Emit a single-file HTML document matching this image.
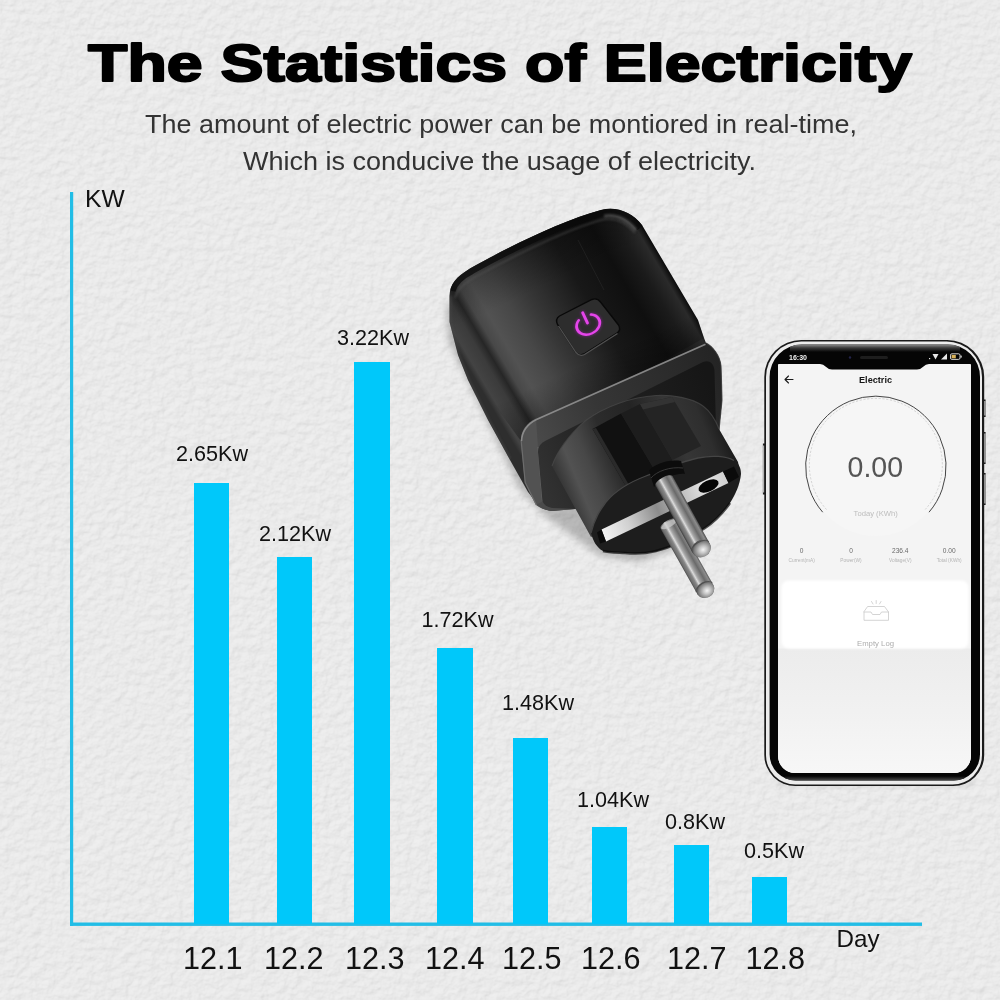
<!DOCTYPE html>
<html lang="en">
<head>
<meta charset="utf-8">
<title>The Statistics of Electricity</title>
<style>
html,body{margin:0;padding:0;background:#e9e9e9;}
body{width:1000px;height:1000px;overflow:hidden;position:relative;font-family:"Liberation Sans",Arial,sans-serif;}
svg{position:absolute;left:0;top:0;display:block;}
text{font-family:"Liberation Sans",Arial,sans-serif;}
.title{font-weight:700;font-size:52px;fill:#000;stroke:#000;stroke-width:2px;stroke-linejoin:round;}
.sub{font-size:25.5px;fill:#333;}
.val{font-size:21.6px;fill:#111;}
.day{font-size:30.6px;fill:#111;}
.ax{font-size:24.6px;fill:#111;}
</style>
</head>
<body>
<svg width="1000" height="1000" viewBox="0 0 1000 1000">
<defs>
<filter id="wall" x="0" y="0" width="100%" height="100%" color-interpolation-filters="sRGB">
<feTurbulence type="fractalNoise" baseFrequency="0.11 0.12" numOctaves="4" seed="11" result="n"/>
<feDiffuseLighting in="n" surfaceScale="1.7" diffuseConstant="1" lighting-color="#ffffff" result="l">
<feDistantLight azimuth="235" elevation="62"/>
</feDiffuseLighting>
<feColorMatrix in="l" type="matrix" values="0.17 0 0 0 0.767  0 0.17 0 0 0.767  0 0 0.17 0 0.767  0 0 0 1 0"/>
</filter>
</defs>
<!-- BACKGROUND -->
<rect id="bg" width="1000" height="1000" fill="#e8e8e8"/>
<rect width="1000" height="1000" filter="url(#wall)"/>
<!-- HEADER -->
<g id="header">
<text class="title" x="88" y="80.8" textLength="824" lengthAdjust="spacingAndGlyphs">The Statistics of Electricity</text>
<text class="sub" x="145" y="133.2" textLength="712" lengthAdjust="spacingAndGlyphs">The amount of electric power can be montiored in real-time,</text>
<text class="sub" x="243" y="170.2" textLength="513" lengthAdjust="spacingAndGlyphs">Which is conducive the usage of electricity.</text>
</g>
<!-- CHART -->
<g id="chart">
<rect x="70" y="192" width="3.2" height="733.9" fill="#22bde6"/>
<rect x="70" y="922.5" width="852" height="3.4" fill="#22bde6"/>
<g fill="#00c8fa">
<rect x="194" y="483" width="35" height="441"/>
<rect x="277" y="557" width="35" height="367"/>
<rect x="354" y="362" width="36" height="562"/>
<rect x="437" y="648" width="36" height="276"/>
<rect x="513" y="738" width="35" height="186"/>
<rect x="592" y="827" width="35" height="97"/>
<rect x="674" y="845" width="35" height="79"/>
<rect x="752" y="877" width="35" height="47"/>
</g>
<text class="ax" x="85" y="206.5">KW</text>
<text class="ax" x="836.5" y="947" style="font-size:24.2px">Day</text>
<g class="val">
<text x="176" y="461">2.65Kw</text>
<text x="259" y="541">2.12Kw</text>
<text x="337" y="345">3.22Kw</text>
<text x="421.5" y="626.5">1.72Kw</text>
<text x="502" y="710">1.48Kw</text>
<text x="577" y="806.5">1.04Kw</text>
<text x="665" y="829">0.8Kw</text>
<text x="744" y="857.5">0.5Kw</text>
</g>
<g class="day">
<text x="183" y="968.5">12.1</text>
<text x="264" y="968.5">12.2</text>
<text x="345" y="968.5">12.3</text>
<text x="425" y="968.5">12.4</text>
<text x="502" y="968.5">12.5</text>
<text x="581" y="968.5">12.6</text>
<text x="667" y="968.5">12.7</text>
<text x="745.5" y="968.5">12.8</text>
</g>
</g>
<!-- PLUG -->
<g id="plug">
<defs>
<linearGradient id="gBody" gradientUnits="userSpaceOnUse" x1="455" y1="345" x2="646" y2="232">
<stop offset="0" stop-color="#2e2e2e"/>
<stop offset="0.025" stop-color="#434343"/>
<stop offset="0.08" stop-color="#3b3b3b"/>
<stop offset="0.115" stop-color="#262626"/>
<stop offset="0.15" stop-color="#484848"/>
<stop offset="0.2" stop-color="#525252"/>
<stop offset="0.3" stop-color="#474747"/>
<stop offset="0.4" stop-color="#373737"/>
<stop offset="0.5" stop-color="#292929"/>
<stop offset="0.62" stop-color="#181818"/>
<stop offset="0.8" stop-color="#0f0f0f"/>
<stop offset="0.9" stop-color="#1b1b1b"/>
<stop offset="0.97" stop-color="#2a2a2a"/>
<stop offset="1" stop-color="#0b0b0b"/>
</linearGradient>
<linearGradient id="gBodyShade" gradientUnits="userSpaceOnUse" x1="540" y1="225" x2="620" y2="400">
<stop offset="0" stop-color="#000" stop-opacity="0.45"/>
<stop offset="0.12" stop-color="#000" stop-opacity="0.18"/>
<stop offset="0.3" stop-color="#000" stop-opacity="0"/>
<stop offset="0.75" stop-color="#000" stop-opacity="0"/>
<stop offset="1" stop-color="#000" stop-opacity="0.35"/>
</linearGradient>
<linearGradient id="gBevelTop" gradientUnits="userSpaceOnUse" x1="530" y1="430" x2="715" y2="350">
<stop offset="0" stop-color="#4a4a4a"/>
<stop offset="0.35" stop-color="#363636"/>
<stop offset="0.8" stop-color="#2a2a2a"/>
<stop offset="1" stop-color="#242424"/>
</linearGradient>
<linearGradient id="gFace" gradientUnits="userSpaceOnUse" x1="536" y1="470" x2="716" y2="400">
<stop offset="0" stop-color="#323232"/>
<stop offset="0.25" stop-color="#262626"/>
<stop offset="1" stop-color="#161616"/>
</linearGradient>
<linearGradient id="gCyl" gradientUnits="userSpaceOnUse" x1="556" y1="505" x2="735" y2="430">
<stop offset="0" stop-color="#1c1c1c"/>
<stop offset="0.06" stop-color="#343434"/>
<stop offset="0.15" stop-color="#525252"/>
<stop offset="0.24" stop-color="#474747"/>
<stop offset="0.36" stop-color="#2c2c2c"/>
<stop offset="0.55" stop-color="#242424"/>
<stop offset="0.72" stop-color="#363636"/>
<stop offset="0.86" stop-color="#2e2e2e"/>
<stop offset="1" stop-color="#101010"/>
</linearGradient>
<linearGradient id="gPin" gradientUnits="userSpaceOnUse" x1="-10" y1="0" x2="10" y2="0">
<stop offset="0" stop-color="#383838"/>
<stop offset="0.1" stop-color="#6c6c6c"/>
<stop offset="0.25" stop-color="#888888"/>
<stop offset="0.36" stop-color="#dcdcdc"/>
<stop offset="0.46" stop-color="#a6a6a6"/>
<stop offset="0.7" stop-color="#6a6a6a"/>
<stop offset="0.88" stop-color="#8c8c8c"/>
<stop offset="1" stop-color="#424242"/>
</linearGradient>
<radialGradient id="gTip" cx="0.55" cy="0.6" r="0.6">
<stop offset="0" stop-color="#f4f4f4"/>
<stop offset="0.35" stop-color="#c4c4c4"/>
<stop offset="0.8" stop-color="#7a7a7a"/>
<stop offset="1" stop-color="#4a4a4a"/>
</radialGradient>
<linearGradient id="gStrip" gradientUnits="userSpaceOnUse" x1="603" y1="535" x2="734" y2="478">
<stop offset="0" stop-color="#f4f4f4"/>
<stop offset="0.2" stop-color="#d0d0d0"/>
<stop offset="0.42" stop-color="#8c8c8c"/>
<stop offset="0.6" stop-color="#bcbcbc"/>
<stop offset="0.8" stop-color="#e6e6e6"/>
<stop offset="1" stop-color="#c8c8c8"/>
</linearGradient>
<filter id="blur3" x="-20%" y="-20%" width="140%" height="140%"><feGaussianBlur stdDeviation="3.5"/></filter>
<filter id="blur1" x="-20%" y="-20%" width="140%" height="140%"><feGaussianBlur stdDeviation="1"/></filter>
<clipPath id="bodyClip"><path d="M449.5,322 L449.5,296 C450,284 456,277 470,268.5 C505,249 560,221 601,210 C616,206 632,212 642,225 L698,320 L704,338 L706,343 L521,441 L510,460 L488,420 L468,380 L458,355 Z"/></clipPath>
</defs>
<!-- soft wall shadow -->
<path d="M446,300 L448,340 L520,490 L545,516 L600,556 L640,562 L700,540 L600,470 Z" fill="#000" opacity="0.22" filter="url(#blur3)"/>
<!-- body silhouette -->
<path d="M449.5,322 L449.5,296 C450,284 456,277 470,268.5 C505,249 560,221 601,210 C616,206 632,212 642,225 L698,320 L704,338 L706,343 C712,346 720,355 721,366 L722,400 L719,430 L700,470 L575,509 L552,511 C545,510 541,508 539,506 L528,492 L510,460 L488,420 L468,380 L458,355 Z" fill="url(#gBody)"/>
<path d="M449.5,322 L449.5,296 C450,284 456,277 470,268.5 C505,249 560,221 601,210 C616,206 632,212 642,225 L698,320 L704,338 L521,441 L458,355 Z" fill="url(#gBodyShade)"/>
<!-- top rim -->
<g clip-path="url(#bodyClip)">
<path d="M452,291 C454,282 461,276 472,270.5 C507,251 561,224 601,213 C616,209 630,215 640,228" fill="none" stroke="#0a0a0a" stroke-width="7" opacity="0.75"/>
<path d="M455,298 C457,289 464,283 475,277 C510,258 562,231 601,220 C614,217 626,222 635,233" fill="none" stroke="#5a5a5a" stroke-width="1.6" opacity="0.55" filter="url(#blur1)"/>
<path d="M604,216 C616,214 627,219 636,230" fill="none" stroke="#777" stroke-width="3" opacity="0.5" filter="url(#blur1)"/>
<!-- faint reflection line on top face -->
<path d="M578,240 L604,290" fill="none" stroke="#303030" stroke-width="1" opacity="0.45"/>
<!-- left silhouette rim light -->
<path d="M450.5,296 L450.5,322 L459,355 L469,380 L489,420 L511,460" fill="none" stroke="#4a4a4a" stroke-width="2" opacity="0.6" filter="url(#blur1)"/>
</g>
<!-- button -->
<path d="M559.5,316 L592,299.5 Q597,297.5 600.5,302 L618.5,325 Q621.5,330 617,333 L584,354 Q579,356.5 575.5,352 L557.5,324.5 Q555,319 559.5,316 Z" fill="#2d2d2d" stroke="#090909" stroke-width="1.4"/>
<path d="M558.5,326 L576,352.5 Q579.5,357 584.5,354.5 L617.5,333.5" fill="none" stroke="#5c5c5c" stroke-width="1.3" opacity="0.85"/>
<g transform="translate(588.2,324.6) rotate(-25) scale(1,0.8)" fill="none" stroke-linecap="round">
<g stroke="#b01fc0" stroke-width="5" opacity="0.35" filter="url(#blur1)">
<path d="M-6.8,-9.9 A12,12 0 1 0 6.8,-9.9"/><path d="M0,-16.5 L0,-2"/>
</g>
<g stroke="#e545ea" stroke-width="2.9">
<path d="M-6.8,-9.9 A12,12 0 1 0 6.8,-9.9"/><path d="M0,-16.5 L0,-2"/>
</g>
</g>
<!-- flange: outer bevel -->
<path d="M520.8,441 C521,430 527,423 536,418.5 L706,343 C712,346 720,355 721,366 L722,400 L719,430 L700,470 L575,509 L552,511 C545,510 540,508 536,505 L524.8,482.5 Z" fill="url(#gBevelTop)"/>
<path d="M520.8,441 C521,430 527,423 536,418.5 L538,447 L542.5,501.5 L536,505 L524.8,482.5 Z" fill="#525252"/>
<path d="M521.5,441 C522,431 527.5,424 536.5,419.5 L705.5,344.2" fill="none" stroke="#959595" stroke-width="1.6" opacity="0.85"/>
<path d="M706,343 C712,346 720,355 721,366 L722,400 L719,430" fill="none" stroke="#3a3a3a" stroke-width="1.2" opacity="0.8"/>
<path d="M538,447 L542.5,501.5" fill="none" stroke="#6e6e6e" stroke-width="1.1" opacity="0.7"/>
<path d="M521.2,441 L525.2,482.5 L536.4,505" fill="none" stroke="#787878" stroke-width="1.2" opacity="0.7"/>
<!-- flange inner face -->
<path d="M538,452 C538,446 541,443 546,440.5 L703,362 C710,359.5 714,364 714.5,371 L716,428 L700,470 L575,509 L552,508 C547,507 544,505 542.5,501.5 Z" fill="url(#gFace)"/>
<!-- cylinder side -->
<path d="M552,466 C557,452 568,436 585,421 C605,406 632,397 656,395.5 C672,394.5 692,398 703,406 C711,412 716,421 719,429 L738,462 L740,472 L591,537 Z" fill="url(#gCyl)"/>
<path d="M552,466 C557,452 568,436 585,421 C605,406 632,397 656,395.5 C672,394.5 692,398 703,406 C711,412 716,421 719,429" fill="none" stroke="#4a4a4a" stroke-width="1.1" opacity="0.7"/>
<!-- grooves -->
<path d="M592.5,429 L621,413.5 L657,474 L628,490 Z" fill="#111111"/>
<path d="M592.5,429 L596,428 L631,488.5 L628,490 Z" fill="#2a2a2a"/>
<path d="M621,413.5 L640,404 L672.5,460 L657,474 Z" fill="#1d1d1d"/>
<path d="M640,404 L672,397 L701,446 L672.5,460 Z" fill="#242424"/>
<path d="M640,404 L672,397 L675,402 L643,409.5 Z" fill="#333"/>
<!-- end face -->
<path d="M591,533 C595,517 601,509 606,502 C616,490 630,482 646,476 C664,469 680,462 698,458 C712,455 726,456 734,460.5 C739,463.5 741,468 741,474 C740,485 735,495 730,503 C723,513 714,522 705,528 C690,538 673,547 656,551.5 C646,553.5 634,554 625,553 C615,552.5 608,552.5 603,551 C597,548 593,541 591,533 Z" fill="#1d1d1d"/>
<path d="M591,533 C595,517 601,509 606,502 C616,490 630,482 646,476 C664,469 680,462 698,458 C712,455 726,456 734,460.5" fill="none" stroke="#454545" stroke-width="1.3"/>
<path d="M603,551 C608,552.5 615,552.5 625,553 C634,554 646,553.5 656,551 C673,547 690,538 705,528 C714,522 723,513 730,503" fill="none" stroke="#0a0a0a" stroke-width="2.5" opacity="0.7"/>
<!-- ground strip -->
<path d="M601.5,529.5 L723,471.5 L728.5,483 L606,541.5 Z" fill="url(#gStrip)"/>
<path d="M723,471.5 L734,466.5 L739,477 L728.5,483 Z" fill="#0b0b0b"/>
<path d="M597,532.5 L601.5,529.5 L606,541.5 L600,543.5 Z" fill="#0b0b0b"/>
<ellipse cx="708.5" cy="486" rx="10.8" ry="5.6" transform="rotate(-25 708.5 486)" fill="#060606"/>
<!-- pin 2 (lower) -->
<g transform="translate(668.5,523.9) rotate(-29.3)">
<path d="M-9.25,0 L-9.25,75 A9.25,8.6 0 0 0 9.25,75 L9.25,0 A9.25,3.5 0 0 0 -9.25,0 Z" fill="url(#gPin)"/>
<ellipse cx="0" cy="0.5" rx="8.6" ry="3" fill="#cfcfcf" opacity="0.7"/>
<ellipse cx="0" cy="75.5" rx="9.1" ry="8" fill="url(#gTip)"/>
<path d="M-9.25,73 A9.25,4.5 0 0 1 9.25,73" fill="none" stroke="#4a4a4a" stroke-width="1" opacity="0.8"/>
</g>
<!-- pin 1 collar -->
<path d="M649,470.5 C655,464 668,459 681,461 L685,474 C676,473 662,478 654,487 Z" fill="#0c0c0c"/>
<path d="M651,478 C657,471 670,466.5 683,468" fill="none" stroke="#383838" stroke-width="1"/>
<!-- pin 1 (upper) -->
<g transform="translate(664,480.8) rotate(-28.9)">
<path d="M-9.75,0 L-9.75,77 A9.75,9 0 0 0 9.75,77 L9.75,0 A9.75,3.5 0 0 0 -9.75,0 Z" fill="url(#gPin)"/>
<ellipse cx="0" cy="77.5" rx="9.6" ry="8.4" fill="url(#gTip)"/>
<path d="M-9.75,75 A9.75,4.5 0 0 1 9.75,75" fill="none" stroke="#4a4a4a" stroke-width="1" opacity="0.8"/>
</g>
</g>
<!-- PHONE -->
<g id="phone">
<defs>
<clipPath id="scr"><path d="M779.5,363.6 L969.5,363.6 A1.5,1.5 0 0 1 971,365.1 L971,756 A17,17 0 0 1 954,773 L795,773 A17,17 0 0 1 778,756 L778,365.1 A1.5,1.5 0 0 1 779.5,363.6 Z"/></clipPath>
<linearGradient id="gBezTop" gradientUnits="userSpaceOnUse" x1="0" y1="344.6" x2="0" y2="352">
<stop offset="0" stop-color="#8a8a8a"/><stop offset="0.45" stop-color="#3a3a3a"/><stop offset="1" stop-color="#050505"/>
</linearGradient>
<linearGradient id="gBezBot" gradientUnits="userSpaceOnUse" x1="0" y1="776" x2="0" y2="780.5">
<stop offset="0" stop-color="#050505"/><stop offset="1" stop-color="#4a4a4a"/>
</linearGradient>
<clipPath id="bez"><path d="M801.8,344.6 L947.8,344.6 A32.2,32.2 0 0 1 980,376.8 L980,754.3 A26.2,26.2 0 0 1 953.8,780.5 L795.8,780.5 A26.2,26.2 0 0 1 769.6,754.3 L769.6,376.8 A32.2,32.2 0 0 1 801.8,344.6 Z"/></clipPath>
<linearGradient id="gScrLow" x1="0" y1="0" x2="0" y2="1">
<stop offset="0" stop-color="#ececec"/><stop offset="0.5" stop-color="#f1f1f1"/><stop offset="1" stop-color="#f7f7f7"/>
</linearGradient>
</defs>
<!-- soft shadow under phone -->
<rect x="775" y="778" width="200" height="10" rx="5" fill="#000" opacity="0.05" filter="url(#blur3)"/>
<!-- side buttons -->
<rect x="762.9" y="443.5" width="2.2" height="51" fill="#1e1e1e"/>
<rect x="762.9" y="445.5" width="1.6" height="47" fill="#b4b4b4"/>
<rect x="983.4" y="399" width="2.3" height="106" fill="none"/>
<rect x="983.4" y="399.5" width="2.2" height="17.5" fill="#1e1e1e"/>
<rect x="984" y="401" width="1.6" height="14.5" fill="#b0b0b0"/>
<rect x="983.4" y="432" width="2.2" height="32" fill="#1e1e1e"/>
<rect x="984" y="433.5" width="1.6" height="29" fill="#b0b0b0"/>
<rect x="983.4" y="473" width="2.2" height="32" fill="#1e1e1e"/>
<rect x="984" y="474.5" width="1.6" height="29" fill="#b0b0b0"/>
<!-- frame -->
<path d="M801.3,340 L947.2,340 A37,37 0 0 1 984.2,377 L984.2,755 A31,31 0 0 1 953.2,786 L795.3,786 A31,31 0 0 1 764.3,755 L764.3,377 A37,37 0 0 1 801.3,340 Z" fill="#1a1a1a"/>
<path d="M801.4,341.6 L946.6,341.6 A35.4,35.4 0 0 1 982,377 L982,755.1 A29.4,29.4 0 0 1 952.6,784.5 L795.4,784.5 A29.4,29.4 0 0 1 766,755.1 L766,377 A35.4,35.4 0 0 1 801.4,341.6 Z" fill="#ececec"/>
<path d="M801.8,344.6 L947.8,344.6 A32.2,32.2 0 0 1 980,376.8 L980,754.3 A26.2,26.2 0 0 1 953.8,780.5 L795.8,780.5 A26.2,26.2 0 0 1 769.6,754.3 L769.6,376.8 A32.2,32.2 0 0 1 801.8,344.6 Z" fill="#050505"/>
<g clip-path="url(#bez)"><rect x="790" y="344" width="170" height="9" fill="url(#gBezTop)"/><rect x="785" y="776" width="180" height="5" fill="url(#gBezBot)"/></g>
<!-- screen -->
<g clip-path="url(#scr)">
<rect x="778" y="348" width="193" height="425" fill="#f4f4f4"/>
<rect x="778" y="648.5" width="193" height="125" fill="url(#gScrLow)"/>
<rect x="781.5" y="580.5" width="187" height="68" rx="7" fill="#ffffff" filter="url(#blur1)"/>
</g>
<g>
<!-- status bar + notch -->
<path d="M778,361 L778,364 L820,364 Q823.5,364.4 825.5,366.6 Q828,369.4 832,369.4 L917,369.4 Q921,369.4 923.5,366.6 Q925.5,364.4 929,364 L971,364 L971,361 Z" fill="#050505"/>
</g>
<rect x="860" y="356" width="28" height="3" rx="1.5" fill="#1d1d1d"/>
<circle cx="850" cy="357.5" r="1.2" fill="#23234a"/>
<text x="789" y="360.3" style="font-size:6.8px;font-weight:700;fill:#f4f4f4" textLength="18" lengthAdjust="spacingAndGlyphs">16:30</text>
<!-- status icons -->
<g fill="#e8e8e8">
<path d="M932.5,354 L938.5,354 L935.5,359.5 Z"/>
<path d="M941,359.5 L947,359.5 L947,353.5 Z"/>
<rect x="929" y="358" width="1.2" height="1.2"/>
<rect x="950.5" y="353.8" width="9.5" height="5.6" rx="1.4" fill="none" stroke="#e8e8e8" stroke-width="0.9"/>
<rect x="951.6" y="354.9" width="4.2" height="3.4" fill="#d9b35a"/>
<rect x="960.5" y="355.6" width="1.2" height="2" />
</g>
<!-- app header -->
<path d="M793,379.5 L785,379.5 M788.5,376 L785,379.5 L788.5,383" fill="none" stroke="#1a1a1a" stroke-width="1.1" stroke-linecap="round" stroke-linejoin="round"/>
<text x="859" y="383.2" style="font-size:9.6px;font-weight:700;fill:#151515" textLength="33" lengthAdjust="spacingAndGlyphs">Electric</text>
<!-- gauge -->
<circle cx="875.8" cy="467" r="69" fill="#f6f6f6"/>
<path d="M822.7,512.2 A70.2,70.2 0 1 1 929,512.2" fill="none" stroke="#454545" stroke-width="1"/>
<path d="M826.5,509.5 A66.5,66.5 0 1 1 925.2,509.5" fill="none" stroke="#c4c4c4" stroke-width="0.7" stroke-dasharray="2.2 1.6"/>
<text x="847.6" y="476.8" style="font-size:28.6px;fill:#555" textLength="55.5" lengthAdjust="spacingAndGlyphs">0.00</text>
<text x="853.6" y="516.3" style="font-size:7.6px;fill:#bdbdbd" textLength="44.2" lengthAdjust="spacingAndGlyphs">Today (KWh)</text>
<!-- stats row -->
<g style="font-size:6.6px;fill:#6a6a6a" text-anchor="middle">
<text x="801.7" y="553">0</text>
<text x="851" y="553">0</text>
<text x="900.3" y="553">236.4</text>
<text x="949.2" y="553">0.00</text>
</g>
<g style="font-size:4.8px;fill:#b5b5b5" text-anchor="middle">
<text x="801.7" y="561.5">Current(mA)</text>
<text x="851" y="561.5">Power(W)</text>
<text x="900.3" y="561.5">Voltage(V)</text>
<text x="949.2" y="561.5">Total (KWh)</text>
</g>
<!-- empty log -->
<g fill="none" stroke="#c9c9c9" stroke-width="0.8" stroke-linejoin="round" stroke-linecap="round">
<path d="M864,612 L864,620.3 L888.5,620.3 L888.5,612 L884.5,606.5 L868,606.5 Z"/>
<path d="M864,612 L871,612 L872.5,614.5 L880,614.5 L881.5,612 L888.5,612"/>
<path d="M876.2,600.5 L876.2,603.5 M871.5,601.5 L873,604 M881,601.5 L879.5,604"/>
</g>
<text x="857" y="646" style="font-size:7.2px;fill:#adadad" textLength="37" lengthAdjust="spacingAndGlyphs">Empty Log</text>
</g>
</svg>
</body>
</html>
